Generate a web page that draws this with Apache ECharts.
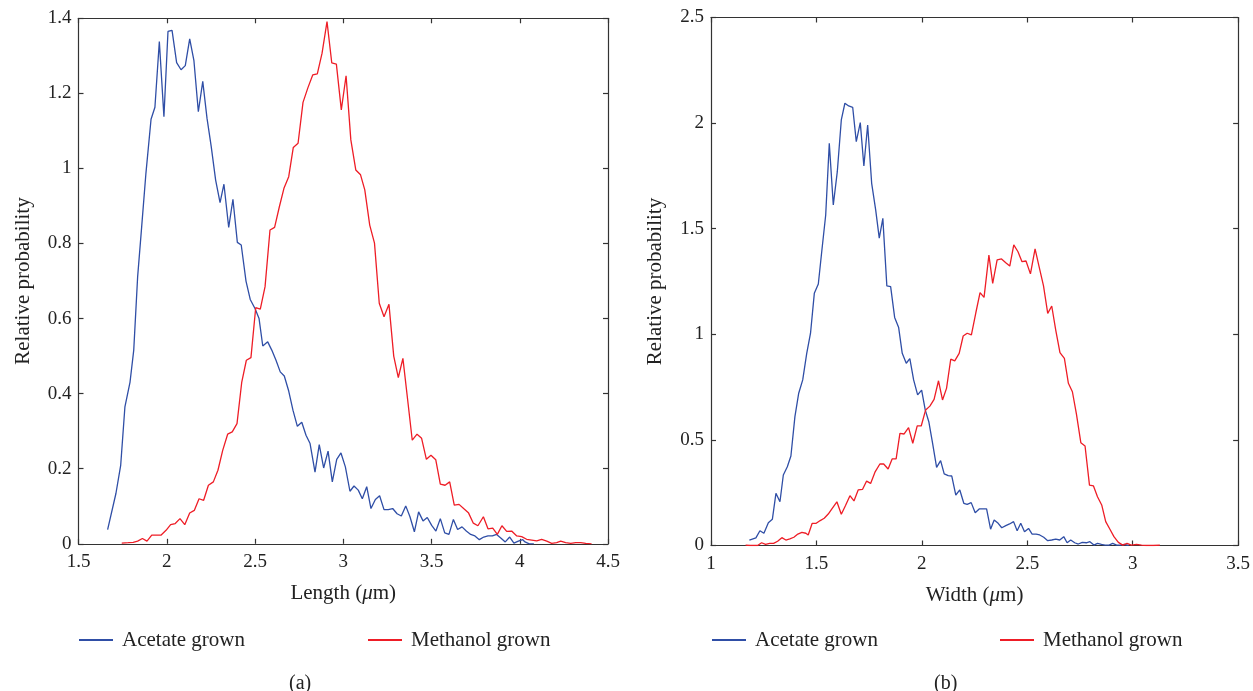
<!DOCTYPE html>
<html>
<head>
<meta charset="utf-8">
<script src="https://cdn.jsdelivr.net/npm/echarts@6/dist/echarts.min.js"></script>
<style>
html,body{margin:0;padding:0;background:#fff;}
#chart{width:1253px;height:691px;}
</style>
</head>
<body>
<div id="chart"></div>
<script>
// (a) length distributions, [um, relative probability]
var lengthAcetate = [
[1.665,0.038],[1.712,0.134],[1.739,0.209],[1.763,0.365],[1.792,0.431],[1.813,0.516],[1.835,0.711],[1.858,0.845],
[1.882,0.987],[1.911,1.131],[1.933,1.163],[1.958,1.338],[1.984,1.138],[2.007,1.365],[2.030,1.368],[2.056,1.282],
[2.081,1.263],[2.105,1.274],[2.130,1.345],[2.154,1.287],[2.179,1.151],[2.204,1.232],[2.228,1.134],[2.252,1.058],
[2.277,0.969],[2.302,0.909],[2.324,0.958],[2.351,0.843],[2.375,0.918],[2.400,0.803],[2.422,0.796],[2.449,0.700],
[2.473,0.651],[2.500,0.627],[2.523,0.600],[2.544,0.527],[2.572,0.538],[2.595,0.516],[2.619,0.489],[2.643,0.458],
[2.666,0.447],[2.691,0.407],[2.715,0.356],[2.740,0.313],[2.765,0.324],[2.789,0.289],[2.812,0.267],[2.840,0.191],
[2.864,0.264],[2.889,0.202],[2.914,0.247],[2.938,0.165],[2.963,0.225],[2.987,0.242],[3.012,0.205],[3.038,0.140],
[3.061,0.154],[3.085,0.143],[3.108,0.120],[3.133,0.152],[3.157,0.094],[3.182,0.118],[3.206,0.128],[3.231,0.091],
[3.255,0.091],[3.280,0.094],[3.305,0.080],[3.329,0.074],[3.354,0.101],[3.378,0.072],[3.403,0.032],[3.427,0.085],
[3.452,0.061],[3.476,0.070],[3.501,0.049],[3.525,0.034],[3.550,0.067],[3.575,0.029],[3.599,0.025],[3.624,0.065],
[3.648,0.038],[3.673,0.045],[3.697,0.034],[3.722,0.025],[3.746,0.021],[3.771,0.011],[3.796,0.018],[3.820,0.021],
[3.845,0.021],[3.869,0.025],[3.894,0.015],[3.918,0.005],[3.943,0.018],[3.967,0.002],[3.992,0.007],[4.017,0.011],
[4.030,0.005],[4.054,0.0],[4.080,0.0]
];
var lengthMethanol = [
[1.745,0.002],[1.782,0.003],[1.810,0.004],[1.835,0.007],[1.862,0.014],[1.888,0.007],[1.915,0.023],[1.943,0.023],
[1.967,0.023],[1.996,0.036],[2.022,0.051],[2.048,0.054],[2.075,0.067],[2.102,0.051],[2.130,0.082],[2.156,0.089],
[2.183,0.120],[2.209,0.116],[2.236,0.156],[2.264,0.165],[2.290,0.196],[2.317,0.249],[2.345,0.292],[2.371,0.298],
[2.398,0.320],[2.425,0.431],[2.451,0.489],[2.477,0.496],[2.504,0.629],[2.530,0.625],[2.557,0.685],[2.585,0.836],
[2.611,0.843],[2.638,0.898],[2.664,0.947],[2.691,0.978],[2.717,1.056],[2.744,1.067],[2.772,1.176],[2.799,1.214],
[2.827,1.249],[2.853,1.252],[2.880,1.307],[2.908,1.391],[2.935,1.281],[2.961,1.278],[2.989,1.156],[3.016,1.247],
[3.043,1.076],[3.071,0.996],[3.098,0.983],[3.122,0.943],[3.150,0.849],[3.177,0.801],[3.204,0.641],[3.231,0.605],
[3.259,0.638],[3.286,0.500],[3.312,0.443],[3.338,0.494],[3.365,0.383],[3.391,0.276],[3.418,0.292],[3.444,0.281],
[3.471,0.225],[3.497,0.236],[3.524,0.224],[3.550,0.159],[3.577,0.156],[3.603,0.165],[3.629,0.103],[3.656,0.105],
[3.682,0.094],[3.709,0.083],[3.737,0.055],[3.763,0.048],[3.794,0.072],[3.820,0.040],[3.847,0.042],[3.873,0.025],
[3.899,0.048],[3.926,0.033],[3.954,0.034],[3.983,0.021],[4.011,0.019],[4.039,0.012],[4.068,0.010],[4.096,0.008],
[4.124,0.012],[4.153,0.007],[4.181,0.001],[4.209,0.003],[4.232,0.007],[4.260,0.003],[4.289,0.001],[4.317,0.003],
[4.345,0.003],[4.374,0.001],[4.407,0.0]
];
// (b) width distributions
var widthAcetate = [
[1.182,0.026],[1.213,0.036],[1.232,0.070],[1.251,0.058],[1.272,0.108],[1.291,0.124],[1.308,0.247],[1.327,0.207],
[1.343,0.334],[1.362,0.373],[1.379,0.424],[1.398,0.610],[1.416,0.721],[1.435,0.784],[1.454,0.910],[1.472,1.005],
[1.490,1.194],[1.509,1.238],[1.526,1.399],[1.544,1.565],[1.561,1.904],[1.580,1.612],[1.599,1.770],[1.618,2.015],
[1.635,2.094],[1.653,2.081],[1.672,2.075],[1.689,1.912],[1.708,2.002],[1.725,1.797],[1.743,1.991],[1.762,1.715],
[1.781,1.589],[1.798,1.455],[1.815,1.549],[1.834,1.229],[1.852,1.226],[1.871,1.080],[1.890,1.032],[1.907,0.910],
[1.926,0.863],[1.943,0.885],[1.961,0.784],[1.980,0.713],[1.999,0.736],[2.016,0.642],[2.033,0.586],[2.051,0.484],
[2.070,0.370],[2.089,0.402],[2.106,0.339],[2.125,0.331],[2.142,0.329],[2.161,0.239],[2.180,0.263],[2.199,0.200],
[2.215,0.195],[2.234,0.203],[2.253,0.155],[2.272,0.173],[2.291,0.173],[2.307,0.173],[2.326,0.077],[2.343,0.121],
[2.362,0.105],[2.379,0.084],[2.398,0.094],[2.416,0.102],[2.435,0.113],[2.452,0.070],[2.469,0.105],[2.487,0.065],
[2.506,0.081],[2.523,0.054],[2.542,0.054],[2.559,0.050],[2.578,0.039],[2.597,0.023],[2.616,0.026],[2.635,0.030],
[2.654,0.026],[2.673,0.042],[2.689,0.013],[2.706,0.026],[2.725,0.013],[2.742,0.007],[2.761,0.015],[2.780,0.013],
[2.797,0.018],[2.816,0.002],[2.833,0.010],[2.852,0.005],[2.869,0.002],[2.888,0.002],[2.905,0.010],[2.924,0.002],
[2.941,0.002],[2.960,0.005],[2.981,0.0]
];
var widthMethanol = [
[1.164,0.002],[1.185,0.0],[1.204,0.0],[1.221,0.0],[1.240,0.013],[1.259,0.005],[1.278,0.010],[1.297,0.010],
[1.316,0.020],[1.336,0.037],[1.355,0.026],[1.374,0.031],[1.393,0.039],[1.412,0.054],[1.431,0.062],[1.450,0.058],
[1.461,0.050],[1.480,0.105],[1.499,0.105],[1.518,0.118],[1.537,0.129],[1.556,0.149],[1.575,0.176],[1.597,0.207],
[1.618,0.148],[1.638,0.189],[1.659,0.236],[1.678,0.211],[1.698,0.263],[1.719,0.266],[1.738,0.305],[1.757,0.294],
[1.779,0.350],[1.801,0.386],[1.819,0.386],[1.840,0.362],[1.859,0.410],[1.878,0.410],[1.896,0.531],[1.916,0.528],
[1.937,0.558],[1.957,0.484],[1.978,0.566],[1.997,0.566],[2.018,0.642],[2.038,0.660],[2.058,0.692],[2.079,0.780],
[2.098,0.689],[2.117,0.744],[2.137,0.882],[2.156,0.874],[2.177,0.910],[2.196,0.992],[2.215,1.005],[2.235,0.997],
[2.256,1.102],[2.276,1.197],[2.295,1.175],[2.318,1.375],[2.336,1.241],[2.357,1.352],[2.378,1.357],[2.398,1.339],
[2.417,1.323],[2.436,1.423],[2.456,1.391],[2.475,1.344],[2.494,1.347],[2.515,1.286],[2.537,1.404],[2.556,1.320],
[2.577,1.229],[2.597,1.099],[2.616,1.134],[2.635,1.020],[2.655,0.913],[2.676,0.886],[2.695,0.768],[2.714,0.728],
[2.733,0.623],[2.754,0.487],[2.774,0.471],[2.795,0.286],[2.814,0.282],[2.833,0.231],[2.853,0.192],[2.872,0.113],
[2.892,0.077],[2.911,0.042],[2.932,0.015],[2.953,0.002],[2.973,0.010],[2.994,0.002],[3.018,0.005],[3.042,0.002],
[3.065,0.0],[3.097,0.0],[3.129,0.002]
];

var seriesNames = ['Acetate grown','Methanol grown'];
var colors = ['#2f4ea6','#ee1d26'];
var FONT = '"Liberation Serif", "DejaVu Serif", serif';
var TXT = '#222';

var lineStyle = {color:'#333', width:1.2};
function axis(extra){
    var a = {
        type:'value',
        axisLine:{show:true, onZero:false, lineStyle:lineStyle},
        axisTick:{show:true, inside:true, length:5, lineStyle:lineStyle},
        splitLine:{show:false},
        axisLabel:{color:TXT, fontFamily:FONT, fontSize:19, margin:7},
        nameTextStyle:{color:TXT, fontFamily:FONT, fontSize:21,
            rich:{i:{fontStyle:'italic', fontFamily:FONT, fontSize:21, color:TXT}}}
    };
    for(var k in extra){ a[k] = extra[k]; }
    return a;
}
function mirror(extra){
    var a = axis(extra);
    a.axisLabel = {show:false};
    return a;
}
function legend(name, left){
    return {
        data:[name], left:left, top:628, padding:0,
        icon:'rect', itemWidth:34, itemHeight:2,
        selectedMode:false,
        textStyle:{color:TXT, fontFamily:FONT, fontSize:21, lineHeight:21, padding:[3,0,0,4]}
    };
}

var chart = echarts.init(document.getElementById('chart'));
chart.setOption({
    animation:false,
    color:colors,
    grid:[
        {left:78.5, top:18.3, width:529.5, height:525.5},
        {left:711, top:17.5, width:528, height:528}
    ],
    xAxis:[
        axis({gridIndex:0, position:'bottom', min:1.5, max:4.5, interval:0.5,
              axisLabel:{color:TXT, fontFamily:FONT, fontSize:19, margin:9},
              name:'Length ({i|\u03bc}m)', nameLocation:'middle', nameGap:39}),
        mirror({gridIndex:0, position:'top', min:1.5, max:4.5, interval:0.5}),
        axis({gridIndex:1, position:'bottom', min:1, max:3.5, interval:0.5,
              axisLabel:{color:TXT, fontFamily:FONT, fontSize:19, margin:9},
              name:'Width ({i|\u03bc}m)', nameLocation:'middle', nameGap:39}),
        mirror({gridIndex:1, position:'top', min:1, max:3.5, interval:0.5})
    ],
    yAxis:[
        axis({gridIndex:0, position:'left', min:0, max:1.4, interval:0.2,
              name:'Relative probability', nameLocation:'middle', nameGap:45}),
        mirror({gridIndex:0, position:'right', min:0, max:1.4, interval:0.2}),
        axis({gridIndex:1, position:'left', min:0, max:2.5, interval:0.5,
              name:'Relative probability', nameLocation:'middle', nameGap:45}),
        mirror({gridIndex:1, position:'right', min:0, max:2.5, interval:0.5})
    ],
    legend:[
        legend(seriesNames[0], 79),
        legend(seriesNames[1], 368),
        legend(seriesNames[0], 712),
        legend(seriesNames[1], 1000)
    ],
    series:[
        {name:seriesNames[0], type:'line', xAxisIndex:0, yAxisIndex:0, data:lengthAcetate,
         showSymbol:false, symbol:'none', lineStyle:{width:1.3, color:colors[0]}, itemStyle:{color:colors[0]}},
        {name:seriesNames[1], type:'line', xAxisIndex:0, yAxisIndex:0, data:lengthMethanol,
         showSymbol:false, symbol:'none', lineStyle:{width:1.3, color:colors[1]}, itemStyle:{color:colors[1]}},
        {name:seriesNames[0], type:'line', xAxisIndex:2, yAxisIndex:2, data:widthAcetate,
         showSymbol:false, symbol:'none', lineStyle:{width:1.3, color:colors[0]}, itemStyle:{color:colors[0]}},
        {name:seriesNames[1], type:'line', xAxisIndex:2, yAxisIndex:2, data:widthMethanol,
         showSymbol:false, symbol:'none', lineStyle:{width:1.3, color:colors[1]}, itemStyle:{color:colors[1]}}
    ],
    graphic:[
        {type:'text', left:289, top:674, style:{text:'(a)', fill:TXT, font:'20px ' + FONT}},
        {type:'text', left:934, top:674, style:{text:'(b)', fill:TXT, font:'20px ' + FONT}}
    ]
});
</script>
</body>
</html>
